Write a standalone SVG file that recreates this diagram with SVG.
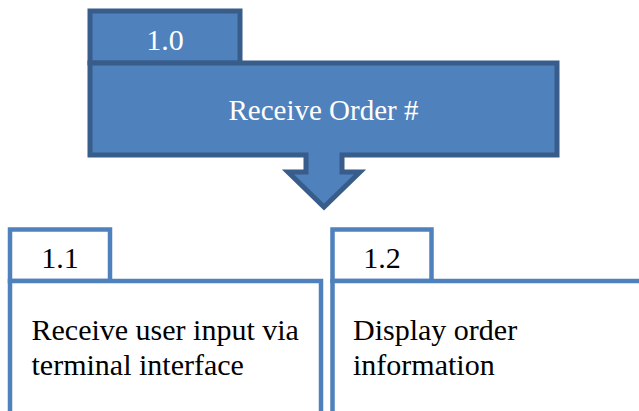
<svg xmlns="http://www.w3.org/2000/svg" width="639" height="411" viewBox="0 0 639 411">
  <style>
    .filled { fill: #4F81BD; stroke: #385D8A; stroke-width: 5; stroke-linejoin: miter; }
    .open { fill: #FFFFFF; stroke: #4F81BD; stroke-width: 4.5; }
    text { font-family: 'Liberation Serif', 'Times New Roman', serif; font-size: 30px; }
    .light { fill: #FFFFFF; }
    .dark { fill: #000000; }
  </style>

  <!-- 1.0 process with downward arrow -->
  <g id="node-1-0">
    <rect class="filled" x="90" y="11" width="150" height="52"/>
    <path class="filled" d="M90,63 H557 V155 H342 V172 H360 L324,207 L288,172 H306 V155 H90 Z"/>
    <text class="light" x="165" y="50" text-anchor="middle">1.0</text>
    <text class="light" x="323.5" y="120" text-anchor="middle" style="font-size:29px">Receive Order #</text>
  </g>

  <!-- 1.1 sub-process -->
  <g id="node-1-1">
    <rect class="open" x="10" y="229.5" width="100" height="51.5"/>
    <rect class="open" x="10" y="281" width="311" height="140"/>
    <text class="dark" x="60" y="268" text-anchor="middle">1.1</text>
    <text class="dark" x="31.5" y="340">Receive user input via</text>
    <text class="dark" x="31.5" y="374.5">terminal interface</text>
  </g>

  <!-- 1.2 sub-process -->
  <g id="node-1-2">
    <rect class="open" x="332.5" y="229.5" width="99" height="51.5"/>
    <rect class="open" x="332.5" y="281" width="330" height="140"/>
    <text class="dark" x="382" y="268" text-anchor="middle">1.2</text>
    <text class="dark" x="353" y="340">Display order</text>
    <text class="dark" x="353" y="374.5">information</text>
  </g>

  <g id="connectors"/>
</svg>
